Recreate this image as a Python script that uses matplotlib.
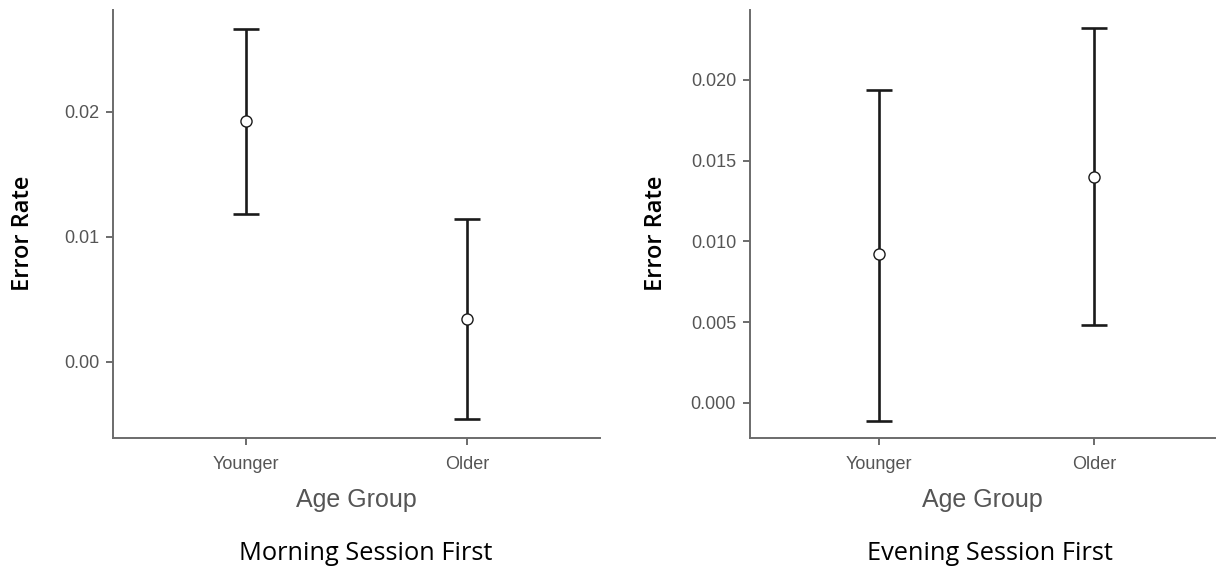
import matplotlib
matplotlib.use("Agg")
import matplotlib.pyplot as plt
import numpy as np

categories = ["Younger", "Older"]

morning_mean = [0.0193, 0.0034]
morning_lower = [0.0118, -0.0046]
morning_upper = [0.0266, 0.0114]

evening_mean = [0.0092, 0.0140]
evening_lower = [-0.0011, 0.0048]
evening_upper = [0.0194, 0.0232]

morning_ticks = [0.00, 0.01, 0.02]
morning_ticklabels = ["0.00", "0.01", "0.02"]
evening_ticks = [0.000, 0.005, 0.010, 0.015, 0.020]
evening_ticklabels = ["0.000", "0.005", "0.010", "0.015", "0.020"]

fig = plt.figure(figsize=(12.16, 5.67), dpi=100)

axis_color = "#6b6b6b"
tick_text = "#555555"


def draw(ax, mean, lo, hi, ticks, ticklabels, ylim, xlim, title, title_x, ylab_x):
    x = np.arange(len(categories))
    mean = np.array(mean); lo = np.array(lo); hi = np.array(hi)
    ax.errorbar(x, mean, yerr=[mean - lo, hi - mean], fmt="none",
                ecolor="#1a1a1a", elinewidth=1.9, capsize=9.5, capthick=1.9, zorder=2)
    ax.plot(x, mean, "o", markersize=8, markerfacecolor="white",
            markeredgecolor="#1a1a1a", markeredgewidth=1.0, zorder=3)
    ax.set_xlim(*xlim)
    ax.set_ylim(*ylim)
    ax.set_xticks(x)
    ax.set_xticklabels(categories)
    ax.set_yticks(ticks)
    ax.set_yticklabels(ticklabels)
    for s in ["top", "right"]:
        ax.spines[s].set_visible(False)
    for s in ["left", "bottom"]:
        ax.spines[s].set_color(axis_color)
        ax.spines[s].set_linewidth(1.4)
    ax.tick_params(axis="both", colors=axis_color, length=5, width=1.4,
                   labelsize=13, labelcolor=tick_text, pad=5)
    ax.tick_params(axis="x", pad=8)
    for lab in ax.get_xticklabels() + ax.get_yticklabels():
        lab.set_family("Liberation Sans")
    ax.set_xlabel("Age Group", fontsize=18, color="#555555",
                  family="Liberation Sans", va="center")
    ax.xaxis.set_label_coords(0.5, (438 - 500) / 428)
    ax.set_ylabel("Error Rate", fontsize=17, color="black",
                  family="Open Sans", fontweight="semibold", va="center")
    ax.yaxis.set_label_coords(ylab_x, (438 - 233) / 428)
    fig.text(title_x, 1 - 553 / 567, title, ha="center", va="center",
             fontsize=18.3, family="Open Sans", color="black")


ax1 = fig.add_axes([113 / 1216, 1 - 438 / 567, (600 - 113) / 1216, (438 - 10) / 567])
draw(ax1, morning_mean, morning_lower, morning_upper, morning_ticks,
     morning_ticklabels, (-0.00608, 0.02816), (-0.602, 1.602),
     "Morning Session First", 366 / 1216, (23 - 113) / 487)

ax2 = fig.add_axes([750 / 1216, 1 - 438 / 567, (1215 - 750) / 1216, (438 - 10) / 567])
draw(ax2, evening_mean, evening_lower, evening_upper, evening_ticks,
     evening_ticklabels, (-0.00217, 0.02433), (-0.597, 1.56),
     "Evening Session First", 990 / 1216, (656 - 750) / 465)

fig.savefig("out.png", dpi=100)
